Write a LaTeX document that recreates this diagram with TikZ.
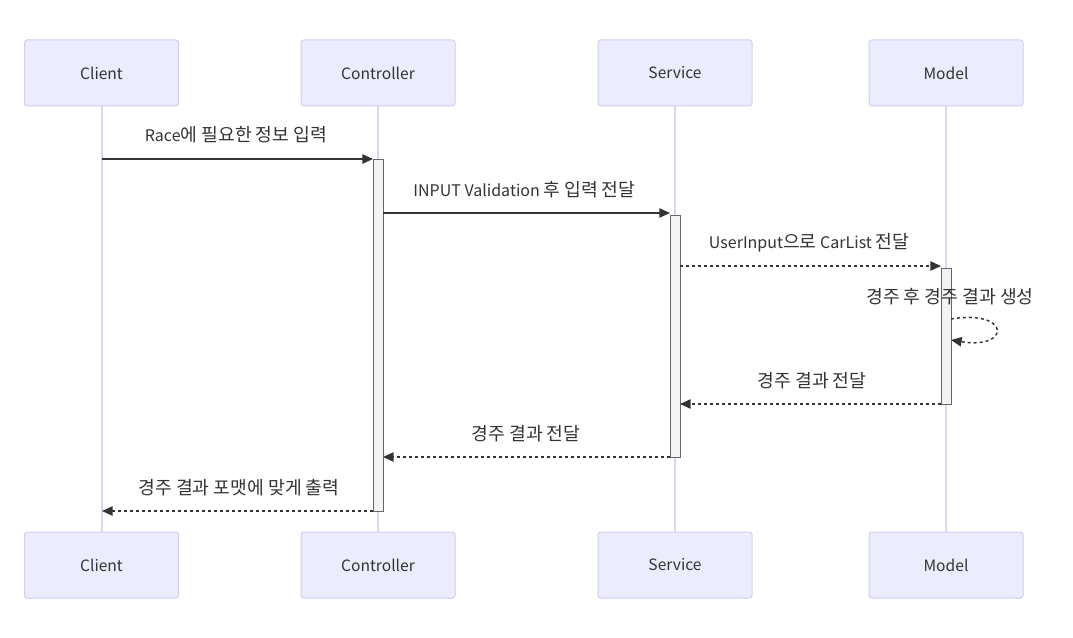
\documentclass[tikz,border=0pt]{standalone}
\usepackage{fontspec}
\setmainfont{Noto Sans CJK KR}
\newfontfamily\krfont[Scale=1.14]{Noto Sans CJK KR}
\newcommand{\kr}[1]{{\krfont #1}}
\usetikzlibrary{arrows.meta}
\definecolor{actfill}{HTML}{ECECFF}
\definecolor{actdraw}{HTML}{D5CCF3}
\definecolor{lifeline}{HTML}{DCD4F4}
\definecolor{actvfill}{HTML}{F4F4F4}
\definecolor{actvdraw}{HTML}{666666}
\definecolor{msg}{HTML}{333333}
\tikzset{
  actor/.style={draw=actdraw, fill=actfill, rounded corners=2pt, line width=0.75pt,
    minimum width=115.5pt, minimum height=49.5pt, inner sep=0pt,
    font=\fontsize{11.7}{13}\selectfont, text=msg},
  life/.style={draw=lifeline, line width=1pt},
  activ/.style={draw=actvdraw, fill=actvfill, line width=0.75pt},
  msgline/.style={draw=msg, line width=1.1pt, -{Triangle[length=8pt,width=7pt]}},
  msgdash/.style={msgline, dash pattern=on 2.25pt off 2.25pt},
  lbl/.style={font=\fontsize{12}{13}\selectfont, text=msg, inner sep=0pt}
}
\begin{document}
\begin{tikzpicture}[x=0.75pt,y=-0.75pt]
\useasboundingbox (0,0) rectangle (1073,638);
% lifelines
\foreach \n/\x in {cl/102,co/378,se/675,mo/946}{
  \coordinate (\n top) at (\x,106);
  \coordinate (\n bot) at (\x,532);
  \draw[life] (\n top) -- (\n bot);
}
% actors
\node[actor] (clT) at (101.5,73) {Client};
\node[actor] (coT) at (378,73) {Controller};
\node[actor] (seT) at (675,73) {Service};
\node[actor] (moT) at (946,73) {Model};
\node[actor] (clB) at (101.5,565) {Client};
\node[actor] (coB) at (378,565) {Controller};
\node[actor] (seB) at (675,565) {Service};
\node[actor] (moB) at (946,565) {Model};
% activations
\draw[activ] (373,159) rectangle (383,511);
\draw[activ] (670,215) rectangle (680,457);
\draw[activ] (941,268) rectangle (951,404);
% message endpoints
\coordinate (m1a) at (102,159); \coordinate (m1b) at (373,159);
\coordinate (m2a) at (383,213);  \coordinate (m2b) at (670,213);
\coordinate (m3a) at (680,266);  \coordinate (m3b) at (941,266);
\coordinate (m4a) at (951,319);  \coordinate (m4b) at (951,340);
\coordinate (m5a) at (941,404);  \coordinate (m5b) at (680,404);
\coordinate (m6a) at (670,457);  \coordinate (m6b) at (383,457);
\coordinate (m7a) at (373,511);  \coordinate (m7b) at (102,511);
% messages
\draw[msgline] (m1a) -- (m1b);
\node[lbl] (l1) at (236,135) {Race\kr{에 필요한 정보 입력}};
\draw[msgline] (m2a) -- (m2b);
\node[lbl] (l2) at (524.5,190) {INPUT Validation \kr{후 입력 전달}};
\draw[msgdash] (m3a) -- (m3b);
\node[lbl] (l3) at (809,243) {UserInput\kr{으로} CarList \kr{전달}};
\draw[msgdash] (m4a) .. controls (1011,309) and (1011,350) .. (m4b);
\node[lbl] (l4) at (950,297) {\kr{경주 후 경주 결과 생성}};
\draw[msgdash] (m5a) -- (m5b);
\node[lbl] (l5) at (812,381) {\kr{경주 결과 전달}};
\draw[msgdash] (m6a) -- (m6b);
\node[lbl] (l6) at (526,434) {\kr{경주 결과 전달}};
\draw[msgdash] (m7a) -- (m7b);
\node[lbl] (l7) at (239,488) {\kr{경주 결과 포맷에 맞게 출력}};
\end{tikzpicture}
\end{document}
